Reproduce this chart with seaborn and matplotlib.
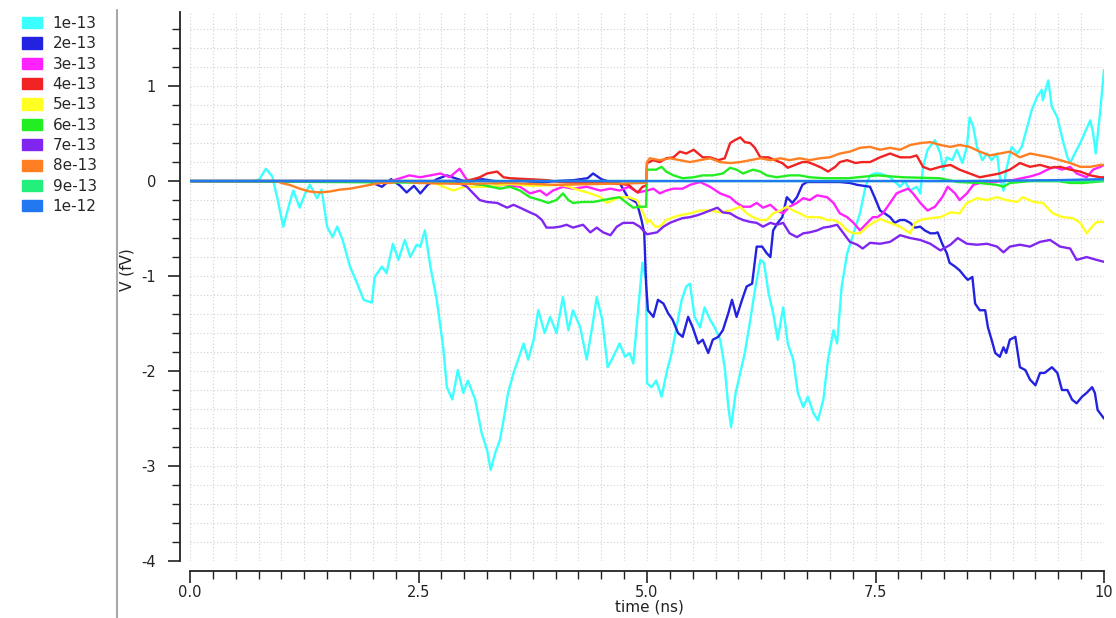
import numpy as np
import pandas as pd
import matplotlib
matplotlib.use("Agg")
import matplotlib.pyplot as plt
import seaborn as sns
from matplotlib.patches import Patch
from matplotlib.lines import Line2D
from matplotlib.ticker import MultipleLocator, FixedLocator, FixedFormatter

# ---------------- data ----------------
labels = ["1e-13", "2e-13", "3e-13", "4e-13", "5e-13",
          "6e-13", "7e-13", "8e-13", "9e-13", "1e-12"]
colors = ["#3CFFFF", "#2222E0", "#FF22FF", "#F02222", "#FFFF22",
          "#22EE22", "#8026F0", "#FF7F22", "#22F07A", "#2278F0"]

x_ticks = [0.0, 2.5, 5.0, 7.5, 10.0]
x_tick_labels = ["0.0", "2.5", "5.0", "7.5", "10"]
y_ticks = [-4, -3, -2, -1, 0, 1]
y_tick_labels = ["-4", "-3", "-2", "-1", "0", "1"]

t1 = [0, 0.69, 0.76, 0.83, 0.9, 0.96, 1.02, 1.09, 1.13, 1.2,
      1.26, 1.31, 1.39, 1.44, 1.5, 1.56, 1.61, 1.67, 1.75, 1.83,
      1.9, 1.99, 2.02, 2.1, 2.15, 2.22, 2.28, 2.35, 2.41, 2.48,
      2.52, 2.57, 2.63, 2.7, 2.77, 2.81, 2.87, 2.93, 2.99, 3.04,
      3.12, 3.19, 3.25, 3.29, 3.34, 3.39, 3.43, 3.48, 3.54, 3.59,
      3.65, 3.7, 3.76, 3.81, 3.88, 3.94, 4.01, 4.08, 4.14, 4.19,
      4.27, 4.34, 4.4, 4.45, 4.51, 4.57, 4.63, 4.7, 4.76, 4.81,
      4.85, 4.9, 4.95, 4.99, 5.0, 5.05, 5.1, 5.16, 5.22, 5.27,
      5.33, 5.38, 5.43, 5.47, 5.52, 5.58, 5.63, 5.69, 5.74, 5.8,
      5.85, 5.89, 5.92, 5.97, 6.02, 6.07, 6.13, 6.18, 6.24, 6.28,
      6.33, 6.38, 6.43, 6.49, 6.54, 6.6, 6.65, 6.71, 6.76, 6.82,
      6.87, 6.93, 6.98, 7.04, 7.08, 7.13, 7.19, 7.26, 7.33, 7.39,
      7.44, 7.49, 7.55, 7.66, 7.77, 7.82, 7.88, 7.95, 7.99, 8.02,
      8.07, 8.15, 8.21, 8.24, 8.28, 8.34, 8.39, 8.45, 8.5, 8.53,
      8.57, 8.61, 8.67, 8.72, 8.77, 8.83, 8.86, 8.9, 8.93, 8.99,
      9.05, 9.1, 9.16, 9.21, 9.27, 9.32, 9.33, 9.39, 9.43, 9.49,
      9.54, 9.6, 9.63, 9.68, 9.74, 9.79, 9.85, 9.88, 9.91, 9.96,
      10.0]
v1 = [0, 0, 0.02, 0.13, 0.05, -0.2, -0.48, -0.23, -0.1, -0.28,
      -0.13, -0.04, -0.18, -0.09, -0.48, -0.59, -0.48, -0.62, -0.9, -1.08,
      -1.25, -1.28, -1.01, -0.9, -0.97, -0.66, -0.83, -0.62, -0.8, -0.67,
      -0.69, -0.52, -0.9, -1.25, -1.75, -2.17, -2.3, -1.99, -2.23, -2.1,
      -2.3, -2.65, -2.83, -3.04, -2.86, -2.73, -2.52, -2.23, -2.02, -1.88,
      -1.71, -1.88, -1.67, -1.36, -1.6, -1.43, -1.6, -1.22, -1.57, -1.36,
      -1.54, -1.88, -1.54, -1.22, -1.46, -1.96, -1.85, -1.71, -1.85, -1.81,
      -1.92, -1.39, -0.86, -1.04, -2.13, -2.17, -2.1, -2.27, -1.99, -1.81,
      -1.5, -1.25, -1.11, -1.08, -1.43, -1.54, -1.33, -1.46, -1.54, -1.67,
      -1.96, -2.38, -2.59, -2.23, -2.02, -1.81, -1.46, -1.15, -0.83, -0.86,
      -1.18, -1.39, -1.67, -1.33, -1.71, -1.88, -2.23, -2.38, -2.27, -2.44,
      -2.52, -2.3, -1.88, -1.57, -1.71, -1.11, -0.76, -0.55, -0.34, -0.06,
      0.06, 0.08, 0.08, 0.04, -0.06, 0, -0.1, -0.06, -0.13, 0.15,
      0.33, 0.43, 0.29, 0.12, 0.25, 0.22, 0.33, 0.19, 0.36, 0.67,
      0.57, 0.36, 0.22, 0.29, 0.22, 0.29, 0.04, -0.1, 0.12, 0.36,
      0.29, 0.36, 0.57, 0.75, 0.89, 0.96, 0.85, 1.06, 0.78, 0.67,
      0.46, 0.25, 0.19, 0.29, 0.4, 0.51, 0.64, 0.51, 0.29, 0.75,
      1.17]

t2 = [0, 1.95, 2.0, 2.1, 2.2, 2.3, 2.37, 2.45, 2.52, 2.6,
      2.7, 2.81, 2.9, 3.0, 3.2, 3.4, 3.6, 3.8, 4.0, 4.2,
      4.35, 4.41, 4.5, 4.6, 4.7, 4.79, 4.89, 4.94, 4.97, 4.99,
      5.01, 5.07, 5.12, 5.18, 5.23, 5.28, 5.34, 5.39, 5.45, 5.5,
      5.56, 5.61, 5.67, 5.72, 5.78, 5.83, 5.89, 5.93, 5.98, 6.04,
      6.09, 6.15, 6.2, 6.26, 6.31, 6.35, 6.38, 6.43, 6.48, 6.53,
      6.59, 6.64, 6.7, 6.75, 6.97, 7.11, 7.22, 7.3, 7.44, 7.49,
      7.55, 7.6, 7.66, 7.71, 7.77, 7.82, 7.88, 7.93, 7.99, 8.04,
      8.1, 8.15, 8.18, 8.23, 8.28, 8.31, 8.37, 8.42, 8.48, 8.51,
      8.56, 8.59, 8.64, 8.7, 8.73, 8.77, 8.81, 8.86, 8.9, 8.93,
      8.97, 9.03, 9.08, 9.14, 9.19, 9.25, 9.3, 9.35, 9.43, 9.49,
      9.54, 9.6, 9.65, 9.7, 9.76, 9.81, 9.87, 9.9, 9.93, 10.0]
v2 = [0, 0, -0.02, -0.06, 0.02, -0.05, -0.12, -0.05, -0.13, -0.04,
      0.02, 0.06, 0.03, 0.0, 0.02, -0.01, 0.01, -0.02, 0.0, 0.01,
      0.03, 0.08, 0.02, -0.01, -0.02, -0.17, -0.23, -0.41, -0.55, -1.08,
      -1.36, -1.43, -1.25, -1.29, -1.39, -1.46, -1.6, -1.64, -1.43, -1.54,
      -1.71, -1.67, -1.81, -1.67, -1.64, -1.57, -1.39, -1.25, -1.43, -1.25,
      -1.11, -1.08, -0.69, -0.69, -0.76, -0.8, -0.52, -0.44, -0.38, -0.17,
      -0.23, -0.17, -0.04, -0.01, -0.01, -0.01, -0.02, -0.04, -0.06, -0.17,
      -0.31, -0.34, -0.38, -0.44, -0.41, -0.41, -0.44, -0.49, -0.48, -0.52,
      -0.55, -0.55, -0.54, -0.66, -0.76, -0.86, -0.9, -0.94, -1.01, -1.04,
      -1.01, -1.29, -1.36, -1.36, -1.54, -1.67, -1.81, -1.85, -1.75, -1.81,
      -1.67, -1.64, -1.96, -1.99, -2.09, -2.15, -2.02, -2.02, -1.96, -2.02,
      -2.2, -2.2, -2.3, -2.34, -2.27, -2.23, -2.17, -2.23, -2.41, -2.5]

t3 = [0, 2.2, 2.3, 2.4, 2.52, 2.63, 2.74, 2.84, 2.95, 3.01,
      3.06, 3.25, 3.43, 3.61, 3.72, 3.83, 3.9, 3.97, 4.08, 4.19,
      4.34, 4.49, 4.6, 4.7, 4.8, 4.9, 5.0, 5.07, 5.14, 5.21,
      5.29, 5.39, 5.47, 5.58, 5.69, 5.8, 5.91, 5.98, 6.05, 6.13,
      6.2, 6.27, 6.35, 6.42, 6.49, 6.56, 6.64, 6.71, 6.78, 6.86,
      6.97, 7.04, 7.11, 7.19, 7.26, 7.33, 7.41, 7.47, 7.52, 7.58,
      7.66, 7.73, 7.8, 7.86, 7.91, 7.99, 8.07, 8.15, 8.23, 8.29,
      8.37, 8.42, 8.5, 8.57, 8.64, 8.8, 9.0, 9.2, 9.3, 9.38,
      9.46, 9.54, 9.63, 9.7, 9.81, 9.88, 9.96, 10.0]
v3 = [0, 0, 0.03, 0.06, 0.04, 0.06, 0.08, 0.04, 0.13, 0.04,
      -0.02, -0.06, -0.04, -0.06, -0.13, -0.1, -0.15, -0.1, -0.06, -0.08,
      -0.06, -0.1, -0.08, -0.1, -0.06, -0.12, -0.1, -0.08, -0.13, -0.1,
      -0.08, -0.08, -0.04, -0.01, -0.06, -0.13, -0.17, -0.23, -0.27, -0.27,
      -0.23, -0.28, -0.25, -0.31, -0.34, -0.27, -0.23, -0.18, -0.2, -0.15,
      -0.17, -0.23, -0.34, -0.38, -0.44, -0.52, -0.44, -0.38, -0.38, -0.34,
      -0.23, -0.13, -0.1, -0.08, -0.13, -0.23, -0.31, -0.27, -0.17, -0.06,
      -0.13, -0.2, -0.13, -0.04, -0.02, -0.01, 0.01, 0.05, 0.08, 0.12,
      0.15, 0.12, 0.15, 0.08, 0.04, 0.12, 0.15, 0.17]

t4 = [0, 3.0, 3.1, 3.17, 3.25, 3.36, 3.43, 3.5, 3.7, 3.9,
      4.05, 4.27, 4.52, 4.7, 4.8, 4.87, 4.9, 4.95, 4.99, 5.0,
      5.07, 5.14, 5.21, 5.29, 5.36, 5.43, 5.51, 5.56, 5.61, 5.69,
      5.78, 5.85, 5.91, 5.96, 6.02, 6.07, 6.13, 6.18, 6.24, 6.33,
      6.4, 6.48, 6.54, 6.62, 6.7, 6.76, 6.84, 6.91, 6.98, 7.06,
      7.11, 7.19, 7.28, 7.35, 7.44, 7.55, 7.66, 7.77, 7.88, 7.95,
      8.02, 8.1, 8.21, 8.32, 8.42, 8.53, 8.64, 8.75, 8.86, 8.97,
      9.08, 9.19, 9.3, 9.41, 9.52, 9.63, 9.74, 9.85, 9.96, 10.0]
v4 = [0, 0, 0.02, 0.04, 0.08, 0.1, 0.04, 0.03, 0.02, 0.01,
      -0.01, -0.02, -0.02, -0.03, -0.04, -0.1, -0.12, -0.06, -0.05, 0.19,
      0.22, 0.2, 0.24, 0.25, 0.31, 0.29, 0.33, 0.29, 0.25, 0.25,
      0.22, 0.24, 0.4, 0.43, 0.46, 0.41, 0.4, 0.35, 0.25, 0.25,
      0.22, 0.19, 0.14, 0.17, 0.2, 0.2, 0.17, 0.14, 0.1, 0.15,
      0.2, 0.22, 0.19, 0.2, 0.2, 0.25, 0.29, 0.25, 0.25, 0.27,
      0.15, 0.12, 0.15, 0.17, 0.12, 0.08, 0.04, 0.06, 0.08, 0.12,
      0.19, 0.15, 0.17, 0.14, 0.15, 0.12, 0.1, 0.06, 0.04, 0.04]

t5 = [0, 2.5, 2.7, 2.88, 3.0, 3.25, 3.5, 3.75, 4.05, 4.15,
      4.27, 4.38, 4.49, 4.56, 4.63, 4.7, 4.8, 4.89, 4.96, 5.0,
      5.03, 5.09, 5.14, 5.21, 5.29, 5.36, 5.47, 5.58, 5.69, 5.8,
      5.91, 6.02, 6.09, 6.16, 6.24, 6.31, 6.38, 6.46, 6.53, 6.6,
      6.67, 6.75, 6.82, 6.89, 6.97, 7.04, 7.11, 7.19, 7.26, 7.33,
      7.41, 7.47, 7.55, 7.66, 7.77, 7.88, 7.93, 7.99, 8.1, 8.21,
      8.32, 8.42, 8.5, 8.61, 8.72, 8.83, 8.93, 9.05, 9.11, 9.23,
      9.33, 9.44, 9.55, 9.66, 9.74, 9.81, 9.87, 9.92, 10.0]
v5 = [0, 0, -0.03, -0.1, -0.06, -0.06, -0.03, -0.05, -0.04, -0.06,
      -0.1, -0.13, -0.17, -0.23, -0.2, -0.17, -0.17, -0.2, -0.34, -0.44,
      -0.41, -0.48, -0.48, -0.41, -0.38, -0.36, -0.34, -0.31, -0.31, -0.33,
      -0.31, -0.27, -0.34, -0.38, -0.41, -0.41, -0.34, -0.31, -0.27, -0.31,
      -0.34, -0.38, -0.38, -0.38, -0.41, -0.41, -0.44, -0.52, -0.55, -0.55,
      -0.48, -0.44, -0.4, -0.44, -0.48, -0.55, -0.44, -0.41, -0.39, -0.38,
      -0.33, -0.34, -0.23, -0.18, -0.2, -0.17, -0.2, -0.22, -0.17, -0.22,
      -0.23, -0.34, -0.38, -0.39, -0.44, -0.55, -0.48, -0.43, -0.43]

t6 = [0, 3.0, 3.2, 3.39, 3.5, 3.61, 3.72, 3.83, 3.92, 4.01,
      4.08, 4.14, 4.19, 4.3, 4.41, 4.52, 4.63, 4.7, 4.78, 4.85,
      4.92, 4.99, 5.0, 5.1, 5.16, 5.21, 5.29, 5.39, 5.51, 5.61,
      5.72, 5.83, 5.91, 5.98, 6.05, 6.16, 6.24, 6.31, 6.42, 6.56,
      6.67, 6.78, 6.93, 7.2, 7.52, 7.8, 8.2, 8.4, 8.64, 8.83,
      8.9, 8.97, 9.2, 9.5, 9.63, 9.77, 10.0]
v6 = [0, -0.02, -0.04, -0.08, -0.06, -0.1, -0.17, -0.2, -0.23, -0.2,
      -0.13, -0.2, -0.23, -0.22, -0.22, -0.2, -0.18, -0.17, -0.23, -0.28,
      -0.27, -0.27, 0.12, 0.12, 0.15, 0.1, 0.06, 0.03, 0.04, 0.06,
      0.06, 0.08, 0.14, 0.12, 0.08, 0.12, 0.1, 0.06, 0.04, 0.06,
      0.06, 0.04, 0.03, 0.03, 0.06, 0.04, 0.03, -0.01, -0.02, -0.04,
      -0.06, -0.02, 0.0, 0.0, -0.02, -0.02, 0.0]

t7 = [0, 2.9, 3.03, 3.1, 3.17, 3.25, 3.36, 3.47, 3.54, 3.61,
      3.72, 3.79, 3.85, 3.9, 3.97, 4.05, 4.12, 4.19, 4.3, 4.38,
      4.45, 4.52, 4.6, 4.67, 4.74, 4.85, 4.92, 5.0, 5.11, 5.18,
      5.25, 5.33, 5.39, 5.47, 5.55, 5.61, 5.69, 5.77, 5.83, 5.91,
      5.98, 6.05, 6.13, 6.2, 6.27, 6.35, 6.42, 6.49, 6.56, 6.64,
      6.71, 6.78, 6.86, 6.93, 7.0, 7.08, 7.15, 7.22, 7.3, 7.36,
      7.44, 7.55, 7.66, 7.77, 7.88, 7.99, 8.1, 8.21, 8.32, 8.4,
      8.5, 8.61, 8.72, 8.83, 8.9, 8.97, 9.08, 9.19, 9.3, 9.41,
      9.52, 9.63, 9.7, 9.81, 9.92, 10.0]
v7 = [0, 0, -0.06, -0.13, -0.2, -0.22, -0.23, -0.28, -0.25, -0.28,
      -0.33, -0.36, -0.41, -0.49, -0.49, -0.48, -0.46, -0.49, -0.46, -0.54,
      -0.49, -0.54, -0.57, -0.48, -0.44, -0.44, -0.48, -0.56, -0.54, -0.48,
      -0.44, -0.41, -0.39, -0.38, -0.36, -0.34, -0.31, -0.28, -0.33, -0.34,
      -0.38, -0.41, -0.43, -0.44, -0.48, -0.44, -0.46, -0.44, -0.55, -0.59,
      -0.55, -0.54, -0.52, -0.49, -0.48, -0.46, -0.55, -0.64, -0.67, -0.71,
      -0.65, -0.66, -0.64, -0.57, -0.6, -0.62, -0.66, -0.73, -0.67, -0.6,
      -0.66, -0.67, -0.66, -0.69, -0.75, -0.69, -0.67, -0.69, -0.64, -0.62,
      -0.69, -0.71, -0.83, -0.8, -0.83, -0.85]

t8 = [0, 0.88, 0.95, 1.0, 1.09, 1.2, 1.31, 1.42, 1.53, 1.64,
      1.75, 1.86, 1.97, 2.08, 2.19, 2.3, 2.5, 3.0, 3.5, 4.0,
      4.5, 4.99, 5.0, 5.03, 5.14, 5.25, 5.36, 5.47, 5.58, 5.69,
      5.8, 5.91, 6.02, 6.13, 6.24, 6.35, 6.46, 6.56, 6.67, 6.78,
      6.89, 7.0, 7.11, 7.22, 7.33, 7.44, 7.55, 7.66, 7.77, 7.88,
      7.99, 8.1, 8.21, 8.32, 8.42, 8.53, 8.64, 8.75, 8.86, 8.97,
      9.08, 9.19, 9.3, 9.41, 9.52, 9.63, 9.74, 9.85, 9.96, 10.0]
v8 = [0, 0, 0, -0.02, -0.04, -0.08, -0.11, -0.12, -0.11, -0.09,
      -0.08, -0.06, -0.04, -0.02, -0.02, 0.0, -0.02, -0.03, -0.02, -0.04,
      -0.03, -0.02, 0.2, 0.24, 0.22, 0.24, 0.22, 0.2, 0.22, 0.24,
      0.2, 0.19, 0.2, 0.22, 0.24, 0.22, 0.24, 0.22, 0.24, 0.22,
      0.24, 0.25, 0.29, 0.31, 0.35, 0.36, 0.33, 0.35, 0.33, 0.38,
      0.4, 0.41, 0.38, 0.36, 0.38, 0.36, 0.31, 0.27, 0.29, 0.31,
      0.25, 0.29, 0.27, 0.25, 0.22, 0.19, 0.15, 0.15, 0.17, 0.17]

t9 = [0, 10.0]
v9 = [0, 0]

t10 = [0, 8.5, 9.5, 10.0]
v10 = [0, 0, 0.01, 0.02]

times = [t1, t2, t3, t4, t5, t6, t7, t8, t9, t10]
values = [v1, v2, v3, v4, v5, v6, v7, v8, v9, v10]

df = pd.concat(
    [pd.DataFrame({"t": t, "v": v, "series": lab})
     for t, v, lab in zip(times, values, labels)],
    ignore_index=True)
palette = dict(zip(labels, colors))

# ---------------- style ----------------
sns.set_style("white")
plt.rcParams["font.family"] = ["DejaVu Sans"]
plt.rcParams["axes.unicode_minus"] = False

W, H = 1116, 618
fig = plt.figure(figsize=(W / 100, H / 100), dpi=100)
ax = fig.add_axes([190 / W, 1 - 561 / H, 914 / W, 549 / H])

sns.lineplot(data=df, x="t", y="v", hue="series", hue_order=labels,
             palette=palette, estimator=None, sort=False, linewidth=1.7,
             legend=False, ax=ax)

ax.set_xlim(0, 10)
ax.set_ylim(-4, 1.78)

ax.xaxis.set_major_locator(FixedLocator(x_ticks))
ax.xaxis.set_major_formatter(FixedFormatter(x_tick_labels))
ax.xaxis.set_minor_locator(MultipleLocator(0.25))
ax.yaxis.set_major_locator(FixedLocator(y_ticks))
ax.yaxis.set_major_formatter(FixedFormatter(y_tick_labels))
ax.yaxis.set_minor_locator(MultipleLocator(0.2))

ax.grid(which="both", linestyle=(0, (1, 2)), color="#d0d0d0", linewidth=0.8)
ax.set_axisbelow(True)

for s in ["top", "right"]:
    ax.spines[s].set_visible(False)
for s in ["left", "bottom"]:
    ax.spines[s].set_position(("outward", 7))
    ax.spines[s].set_color("#222222")
    ax.spines[s].set_linewidth(1.3)

ax.tick_params(which="both", bottom=True, left=True, top=False, right=False,
               direction="out", color="#222222")
ax.tick_params(axis="x", which="major", length=8.5, width=1.2,
               labelsize=10.5, labelcolor="#222222", pad=2)
ax.tick_params(axis="y", which="major", length=8.5, width=1.2,
               labelsize=10.5, labelcolor="#222222", pad=9)
ax.tick_params(which="minor", length=5.5, width=1.0)

ax.set_xlabel("time (ns)", fontsize=11, color="#222222")
ax.set_ylabel("V (fV)", fontsize=11, color="#222222")
ax.xaxis.set_label_coords(0.503, -0.071)
ax.yaxis.set_label_coords(-0.061, 0.53)

# legend at the left
handles = [Patch(facecolor=c, edgecolor=c) for c in colors]
fig.legend(handles, labels, loc="upper left",
           bbox_to_anchor=(22 / W, 1 - 16 / H), frameon=False, fontsize=11,
           handlelength=1.3, handleheight=0.75, handletextpad=0.7,
           labelspacing=0.35, borderaxespad=0, borderpad=0)

# grey separator line
fig.add_artist(Line2D([117 / W, 117 / W], [0, 1 - 10 / H],
                      transform=fig.transFigure, color="#a8a8a8", lw=1.5))

fig.savefig("out.png", dpi=100)
